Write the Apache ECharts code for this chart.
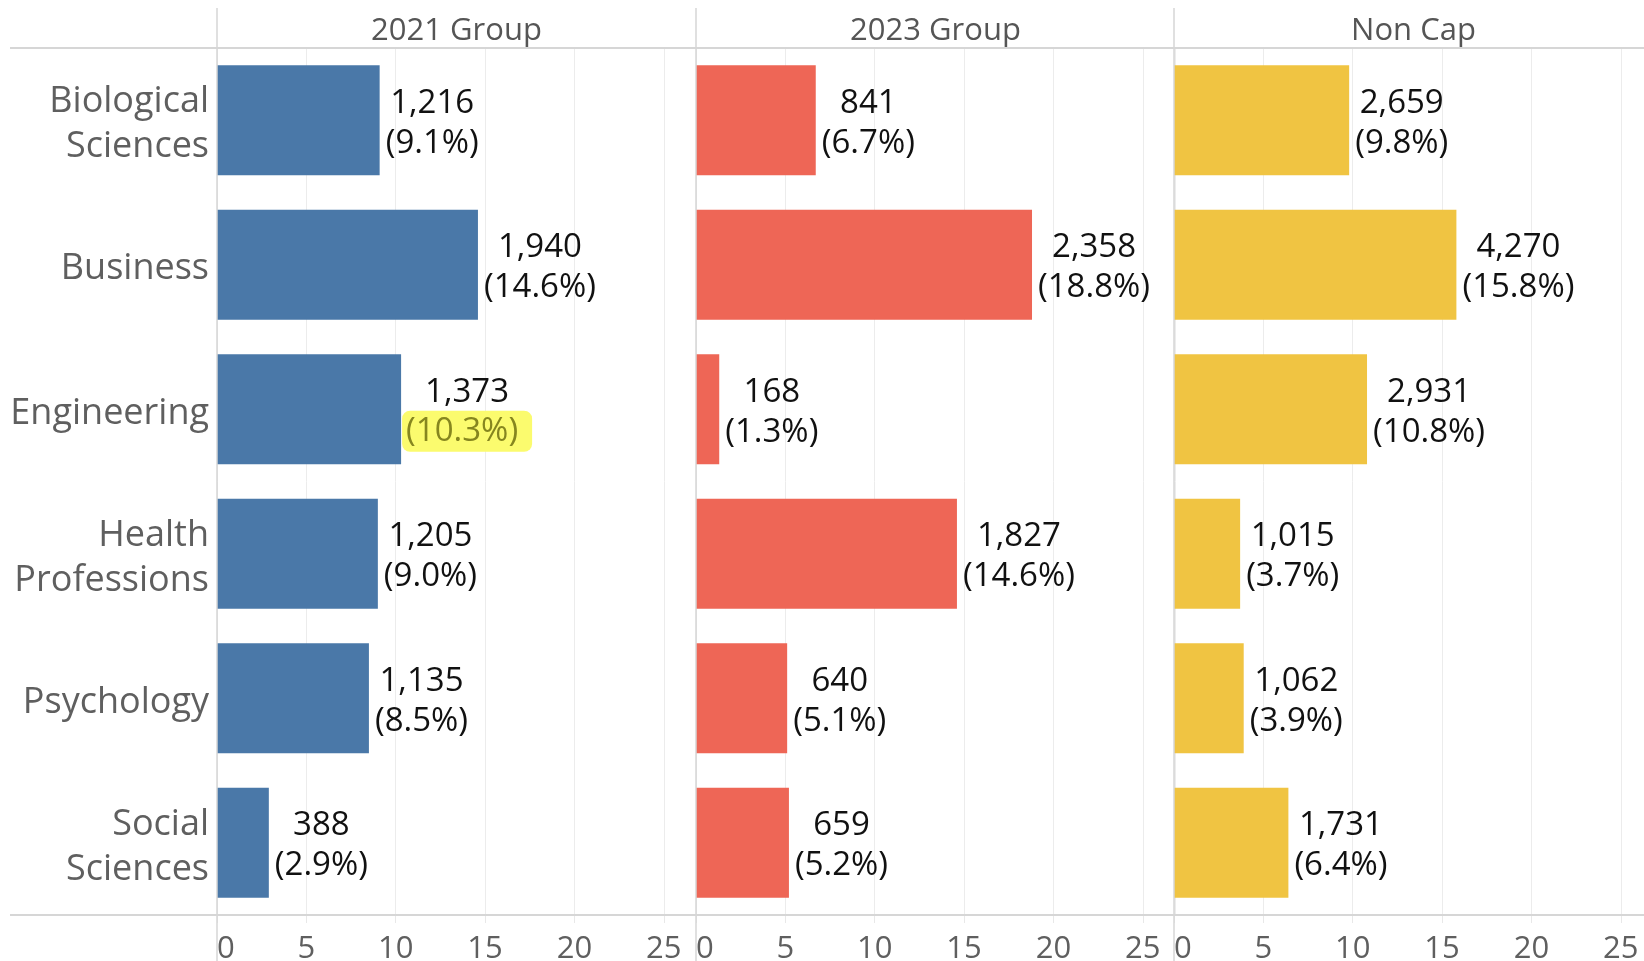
<!DOCTYPE html>
<html>
<head>
<meta charset="utf-8">
<script src="https://cdn.jsdelivr.net/npm/echarts@6/dist/echarts.min.js"></script>
<style>
  html, body { margin: 0; padding: 0; background: #fff; }
  #main { width: 1644px; height: 961px; }
</style>
</head>
<body>
<div id="main"></div>
<script>
// data
const categories = ['Biological\nSciences', 'Business', 'Engineering', 'Health\nProfessions', 'Psychology', 'Social\nSciences'];
const groups = ['2021 Group', '2023 Group', 'Non Cap'];
const counts2021 = [1216, 1940, 1373, 1205, 1135, 388];
const pct2021 = [9.1, 14.6, 10.3, 9.0, 8.5, 2.9];
const counts2023 = [841, 2358, 168, 1827, 640, 659];
const pct2023 = [6.7, 18.8, 1.3, 14.6, 5.1, 5.2];
const countsNonCap = [2659, 4270, 2931, 1015, 1062, 1731];
const pctNonCap = [9.8, 15.8, 10.8, 3.7, 3.9, 6.4];
const xTicks = [0, 5, 10, 15, 20, 25];
const colors = ['#4a78a8', '#ee6656', '#f0c442'];

// layout
const FONT = '"Open Sans", "Noto Sans", sans-serif';
const W = 1644;
const panelLeft = [217, 696, 1174];
const panelWidth = 479;
const gridTop = 48;
const gridBottom = 915;
const axisMax = 26.8;
const labelSize = 33;

const ctx = document.createElement('canvas').getContext('2d');
ctx.font = labelSize + 'px ' + FONT;
function measure(s) { return ctx.measureText(s).width; }

function barSeries(idx, counts, pcts) {
  return {
    type: 'bar',
    xAxisIndex: idx,
    yAxisIndex: idx,
    barCategoryGap: '24%',
    itemStyle: { color: colors[idx] },
    label: {
      show: true,
      position: 'right',
      distance: 6,
      align: 'center',
      verticalAlign: 'middle',
      fontFamily: FONT,
      rich: {
        n: { fontSize: labelSize, fontFamily: FONT, color: '#111', lineHeight: 40, align: 'center' },
        h: { fontSize: labelSize, fontFamily: FONT, color: '#86861f', lineHeight: 38, align: 'center',
             backgroundColor: '#fbfb6e', padding: [4, 14, 4, 4], borderRadius: 8 }
      }
    },
    data: pcts.map(function (p, i) {
      const top = counts[i].toLocaleString('en-US');
      const bottom = '(' + p.toFixed(1) + '%)';
      const hl = idx === 0 && i === 2;
      const w = Math.max(measure(top), measure(bottom) + (hl ? 18 : 0));
      return {
        value: p,
        label: {
          offset: [w / 2 - (hl ? 5 : 0), hl ? 2 : 3],
          formatter: '{n|' + top + '}\n{' + (hl ? 'h' : 'n') + '|' + bottom + '}'
        }
      };
    })
  };
}

const chart = echarts.init(document.getElementById('main'));

const grids = [], xAxes = [], yAxes = [], titles = [];
groups.forEach(function (g, i) {
  // last panel is cut by the right edge of the picture
  const w = Math.min(panelWidth, W - panelLeft[i]);
  grids.push({ left: panelLeft[i], width: w, top: gridTop, height: gridBottom - gridTop, outerBoundsMode: 'none' });
  titles.push({
    text: g,
    left: panelLeft[i] + panelWidth / 2 - 5,
    top: 11,
    textAlign: 'center',
    textStyle: { fontSize: 31, fontWeight: 'normal', color: '#555', fontFamily: FONT }
  });
  xAxes.push({
    type: 'value',
    gridIndex: i,
    min: xTicks[0],
    max: axisMax * w / panelWidth,
    interval: xTicks[1] - xTicks[0],
    axisLine: { show: false },
    axisTick: { show: true, length: 8, lineStyle: { color: '#e8e8e8' } },
    splitLine: { show: true, lineStyle: { color: '#ececec', width: 1 } },
    axisLabel: {
      fontSize: 31,
      color: '#5f5f5f',
      fontFamily: FONT,
      margin: 19,
      showMaxLabel: false,
      alignMinLabel: 'left',
      formatter: function (v) { return xTicks.indexOf(v) >= 0 ? String(v) : ''; }
    }
  });
  yAxes.push({
    type: 'category',
    gridIndex: i,
    inverse: true,
    data: categories,
    axisLine: { show: false },
    axisTick: { show: false },
    splitLine: { show: false },
    axisLabel: {
      show: i === 0,
      color: '#5f5f5f',
      fontFamily: FONT,
      margin: 8,
      align: 'right',
      // small spacer line on top pushes the names a little lower, as in the picture
      formatter: function (v) {
        return '{s| }\n' + v.split('\n').map(function (l) { return '{c|' + l + '}'; }).join('\n');
      },
      rich: {
        s: { fontSize: 2, lineHeight: 8 },
        c: { fontSize: 36, lineHeight: 45, color: '#5f5f5f', fontFamily: FONT }
      }
    }
  });
});

// frame lines (header rule, bottom rule, panel separators)
const frameColor = '#d6d6d6';
const graphics = [
  { type: 'line', z: 100, shape: { x1: 10, y1: gridTop, x2: W, y2: gridTop }, style: { stroke: frameColor, lineWidth: 2 } },
  { type: 'line', z: 100, shape: { x1: 10, y1: gridBottom, x2: W, y2: gridBottom }, style: { stroke: frameColor, lineWidth: 2 } }
];
panelLeft.forEach(function (x) {
  graphics.push({ type: 'line', z: 100, shape: { x1: x, y1: 8, x2: x, y2: 961 }, style: { stroke: frameColor, lineWidth: 1.5 } });
});

chart.setOption({
  backgroundColor: '#ffffff',
  animation: false,
  title: titles,
  grid: grids,
  xAxis: xAxes,
  yAxis: yAxes,
  graphic: graphics,
  series: [
    barSeries(0, counts2021, pct2021),
    barSeries(1, counts2023, pct2023),
    barSeries(2, countsNonCap, pctNonCap)
  ]
});
</script>
</body>
</html>
